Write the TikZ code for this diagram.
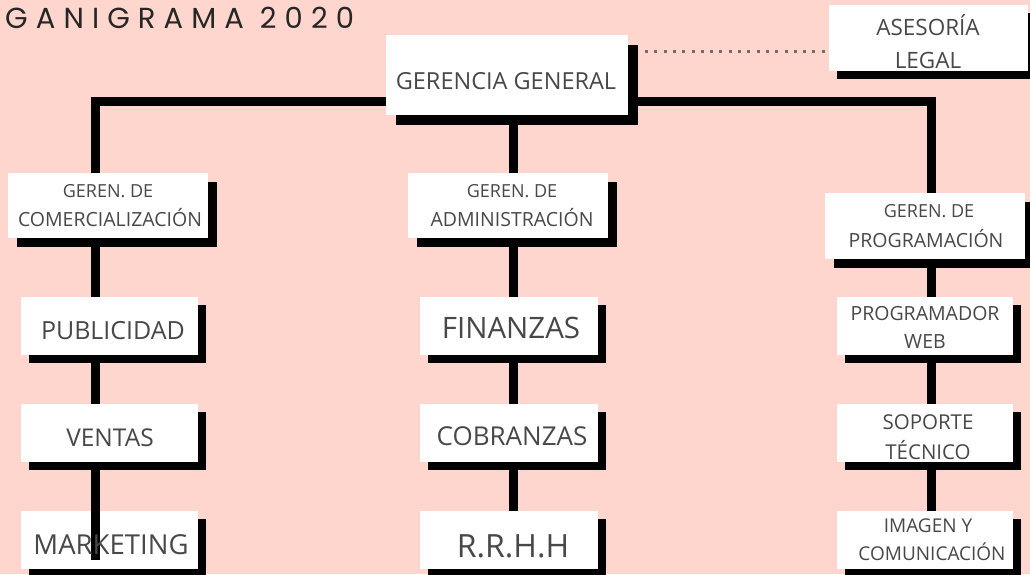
\documentclass[tikz,border=0pt]{standalone}
\usepackage{fontspec}
\setmainfont{Open Sans}
\newfontfamily\titlefont{Poppins}[LetterSpace=28]
\usetikzlibrary{shadows,backgrounds}
\definecolor{bgpink}{RGB}{255,214,206}
\definecolor{txtgray}{RGB}{72,72,72}
\definecolor{dotgray}{RGB}{120,106,104}
\newcommand{\fs}[1]{\fontsize{#1}{#1}\selectfont}
\begin{document}
\begin{tikzpicture}[x=1pt,y=-1pt,
  orgbox/.style={fill=white, inner sep=0pt,
    general shadow={fill=black, shadow xshift=8pt, shadow yshift=-8pt}},
  bigshadow/.style={fill=white, inner sep=0pt,
    general shadow={fill=black, shadow xshift=10pt, shadow yshift=-10pt}},
  midshadow/.style={fill=white, inner sep=0pt,
    general shadow={fill=black, shadow xshift=9pt, shadow yshift=-9pt}},
  conn/.style={line width=9pt, black, line join=miter},
  lbl/.style={anchor=base, text=txtgray, inner sep=0pt},
  dots/.style={line width=3pt, dotgray, dash pattern=on 3pt off 6.3pt}
]
\useasboundingbox (0,0) rectangle (1030,574);
\begin{scope}[on background layer]
  \fill[bgpink] (0,0) rectangle (1030,574);
\end{scope}

% title
\node[anchor=base west, inner sep=0pt, text=black!85] (title) at (5,28)
  {\titlefont\fs{29}GANIGRAMA 2020};

% boxes
\node[bigshadow, minimum width=242pt, minimum height=80pt] (gg) at (507,75) {};
\node[orgbox, minimum width=199pt, minimum height=66pt] (ase) at (928.5,38) {};
\node[midshadow, minimum width=200pt, minimum height=65pt] (com) at (108,205.5) {};
\node[midshadow, minimum width=200pt, minimum height=65pt] (adm) at (508,205.5) {};
\node[midshadow, minimum width=200pt, minimum height=66pt] (prog) at (925,226) {};

\node[orgbox, minimum width=177pt, minimum height=58pt] (pub) at (109.5,326) {};
\node[orgbox, minimum width=177pt, minimum height=58pt] (ven) at (109.5,433) {};
\node[orgbox, minimum width=177pt, minimum height=58pt] (mkt) at (109.5,540) {};

\node[orgbox, minimum width=178pt, minimum height=58pt] (fin) at (509,326) {};
\node[orgbox, minimum width=178pt, minimum height=58pt] (cob) at (509,433) {};
\node[orgbox, minimum width=178pt, minimum height=58pt] (rrhh) at (509,540) {};

\node[orgbox, minimum width=176pt, minimum height=58pt] (web) at (925,326) {};
\node[orgbox, minimum width=176pt, minimum height=58pt] (sop) at (925,433) {};
\node[orgbox, minimum width=176pt, minimum height=58pt] (img) at (925,540) {};

% connector coordinates
\coordinate (cL) at (95,101);
\coordinate (cM) at (513,101);
\coordinate (cR) at (931,101);
\coordinate (mktEnd) at (95,560);
\coordinate (dotA) at (645,51);

\begin{scope}[on background layer]
  \draw[conn] (cL |- ven.south) -- (cL) -- (cR) -- (cR |- prog.north);
  \draw[conn] (cM) -- (cM |- rrhh.north);
  \draw[conn] (cR |- prog.south) -- (cR |- img.north);
\end{scope}
\draw[conn] (cL |- ven.south) -- (mktEnd);

\draw[dots] (dotA) -- (ase.west |- dotA);

% labels
\node[lbl, font=\fs{23.5}] (ggt) at (506,89) {GERENCIA GENERAL};
\node[lbl, font=\fs{22.5}] (aset1) at (928,35) {ASESORÍA};
\node[lbl, font=\fs{22.5}] (aset2) at (928,68) {LEGAL};

\node[lbl, font=\fs{18}] (comt1) at (108,197) {GEREN. DE};
\node[lbl, font=\fs{19.5}] (comt2) at (110,226) {COMERCIALIZACIÓN};
\node[lbl, font=\fs{18}] (admt1) at (512,197) {GEREN. DE};
\node[lbl, font=\fs{19.5}] (admt2) at (512,226) {ADMINISTRACIÓN};
\node[lbl, font=\fs{18}] (progt1) at (929,217) {GEREN. DE};
\node[lbl, font=\fs{19.5}] (progt2) at (926,247) {PROGRAMACIÓN};

\node[lbl, font=\fs{25}] (pubt) at (113,339) {PUBLICIDAD};
\node[lbl, font=\fs{24.5}] (vent) at (110,446) {VENTAS};
\node[lbl, font=\fs{27.5}] (mktt) at (111,554) {MARKETING};

\node[lbl, font=\fs{29.5}] (fint) at (511,338) {FINANZAS};
\node[lbl, font=\fs{26}] (cobt) at (512,445) {COBRANZAS};
\node[lbl, font=\fs{32}] (rrht) at (513,557) {R.R.H.H};

\node[lbl, font=\fs{19.5}] (webt1) at (925,320) {PROGRAMADOR};
\node[lbl, font=\fs{19.5}] (webt2) at (925,348) {WEB};
\node[lbl, font=\fs{20.5}] (sopt1) at (928,429) {SOPORTE};
\node[lbl, font=\fs{20.5}] (sopt2) at (928,459) {TÉCNICO};
\node[lbl, font=\fs{19}] (imgt1) at (928,532) {IMAGEN Y};
\node[lbl, font=\fs{19}] (imgt2) at (932,560) {COMUNICACIÓN};
\end{tikzpicture}
\end{document}
